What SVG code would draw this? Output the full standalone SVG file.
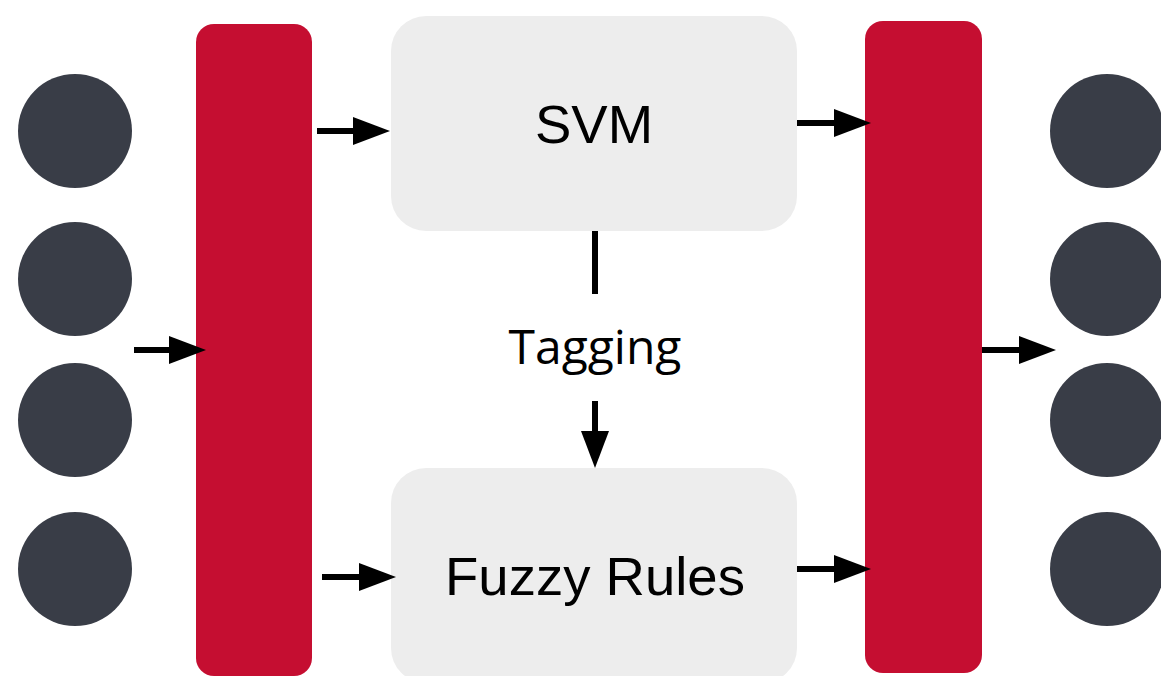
<svg xmlns="http://www.w3.org/2000/svg" width="1161" height="676" viewBox="0 0 1161 676">
<style>
.dot{fill:#393D47}
.bar{fill:#C50E31}
.box{fill:#EDEDED}
.lbl{font-family:"Liberation Sans",Arial,sans-serif;font-size:54.5px;fill:#000;text-anchor:middle}
.tag{font-family:"Open Sans","Noto Sans",sans-serif;font-size:48px;fill:#000;text-anchor:middle}
.conn{stroke:#000;stroke-width:6;fill:none}
</style>
<defs>
<marker id="ah" markerUnits="userSpaceOnUse" markerWidth="38" markerHeight="28" refX="1" refY="14" orient="auto">
<path d="M0,0 L37,14 L0,28 Z" fill="#000"/>
</marker>
</defs>
<rect width="1161" height="676" fill="#fff"/>
<g id="in1"><circle class="dot" cx="75" cy="131" r="57"/></g>
<g id="in2"><circle class="dot" cx="75" cy="279" r="57"/></g>
<g id="in3"><circle class="dot" cx="75" cy="420" r="57"/></g>
<g id="in4"><circle class="dot" cx="75" cy="569" r="57"/></g>
<g id="out1"><circle class="dot" cx="1107" cy="131" r="57"/></g>
<g id="out2"><circle class="dot" cx="1107" cy="279" r="57"/></g>
<g id="out3"><circle class="dot" cx="1107" cy="420" r="57"/></g>
<g id="out4"><circle class="dot" cx="1107" cy="569" r="57"/></g>
<g id="leftbar"><rect class="bar" x="196" y="24" width="116" height="652" rx="18"/></g>
<g id="rightbar"><rect class="bar" x="865" y="21" width="117" height="652" rx="18"/></g>
<g id="svm"><rect class="box" x="391" y="16" width="406" height="215" rx="35"/><text class="lbl" x="594" y="143">SVM</text></g>
<g id="fuzzy"><rect class="box" x="391" y="468" width="406" height="215" rx="35"/><text class="lbl" x="595" y="595">Fuzzy Rules</text></g>
<g id="connectors">
<line class="conn" x1="134" y1="350" x2="170" y2="350" marker-end="url(#ah)"/>
<line class="conn" x1="317" y1="131" x2="354" y2="131" marker-end="url(#ah)"/>
<line class="conn" x1="322" y1="577" x2="360" y2="577" marker-end="url(#ah)"/>
<line class="conn" x1="797" y1="123" x2="835" y2="123" marker-end="url(#ah)"/>
<line class="conn" x1="797" y1="569" x2="835" y2="569" marker-end="url(#ah)"/>
<line class="conn" x1="982" y1="350" x2="1020" y2="350" marker-end="url(#ah)"/>
<line class="conn" x1="595" y1="231" x2="595" y2="294"/>
<line class="conn" x1="595" y1="401" x2="595" y2="432" marker-end="url(#ah)"/>
<text class="tag" x="595" y="364">Tagging</text>
</g>
</svg>
